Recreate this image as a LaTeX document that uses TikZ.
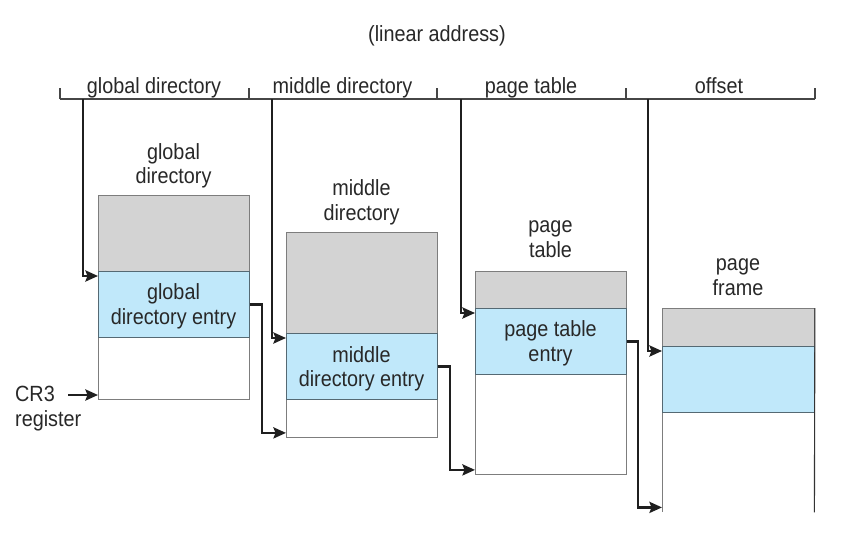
\documentclass[tikz,border=0pt]{standalone}
\usepackage{fontspec}
\setmainfont[FakeStretch=0.9]{Liberation Sans}
\usetikzlibrary{arrows.meta}
\definecolor{grayfill}{RGB}{211,211,211}
\definecolor{bluefill}{RGB}{192,232,250}
\definecolor{boxline}{RGB}{125,125,125}
\definecolor{sepline}{RGB}{85,105,115}
\definecolor{txt}{RGB}{40,40,40}
\definecolor{barline}{RGB}{70,70,70}
\begin{document}
\begin{tikzpicture}[x=1pt,y=-1pt,
  lbl/.style={inner sep=0pt, text=txt, font=\fontsize{22}{24.5}\selectfont, align=center, anchor=base},
  cell/.style={draw=boxline, line width=0.9pt, inner sep=0pt, anchor=north west, minimum width=151pt},
  graycell/.style={cell, fill=grayfill},
  bluecell/.style={cell, fill=bluefill, draw=sepline},
  whitecell/.style={cell, fill=white},
  bar/.style={draw=barline, line width=1.2pt},
  conn/.style={draw=black!88, line width=2.7pt, -{Stealth[length=12.5pt,width=11pt,inset=2pt]}}]
\useasboundingbox[fill=white] (0,0) rectangle (857,552);

% linear address bar
\node[lbl] (la) at (437,41.5) {(linear address)};
\coordinate (t0) at (60,99);
\coordinate (t1) at (249,99);
\coordinate (t2) at (437,99);
\coordinate (t3) at (626,99);
\coordinate (t4) at (815,99);
\draw[bar] (t0) -- (t4);
\foreach \t in {t0,t1,t2,t3,t4} \draw[bar] (\t) -- ++(0,-11);
\node[lbl] (h1) at (154,93) {global directory};
\node[lbl] (h2) at (342.5,93) {middle directory};
\node[lbl] (h3) at (531,93) {page table};
\node[lbl] (h4) at (719,93) {offset};

% box 1: global directory
\node[graycell, minimum height=76pt] (g1) at (98,195) {};
\node[whitecell, minimum height=62pt] (w1) at (98,337) {};
\node[bluecell, minimum height=66pt] (b1) at (98,271) {};
\node[lbl] (n1) at (173.5,183.5) {global\\directory};
\node[lbl] (e1) at (173.5,324) {global\\directory entry};

% box 2: middle directory
\node[graycell, minimum height=101pt] (g2) at (286,232) {};
\node[whitecell, minimum height=38pt] (w2) at (286,399) {};
\node[bluecell, minimum height=66pt] (b2) at (286,333) {};
\node[lbl] (n2) at (361.5,220) {middle\\directory};
\node[lbl] (e2) at (361.5,386.5) {middle\\directory entry};

% box 3: page table
\node[graycell, minimum height=37pt] (g3) at (475,271) {};
\node[whitecell, minimum height=100pt] (w3) at (475,374) {};
\node[bluecell, minimum height=66pt] (b3) at (475,308) {};
\node[lbl] (n3) at (550.5,257) {page\\table};
\node[lbl] (e3) at (550.5,361) {page table\\entry};

% box 4: page frame (open at the bottom)
\node[graycell, minimum height=38pt, minimum width=152pt] (g4) at (662,308) {};
\node[inner sep=0pt, anchor=north west, minimum width=152pt, minimum height=100pt] (w4) at (662,412) {};
\draw[boxline, line width=0.9pt] (w4.north west) -- (w4.south west);
\draw[boxline, line width=0.9pt] (w4.north east) -- (w4.south east);
\node[bluecell, minimum height=66pt, minimum width=152pt] (b4) at (662,346) {};
\draw[black!80, line width=1.1pt] (g4.north east) -- (w4.south east);
\node[lbl] (n4) at (738,295) {page\\frame};

% CR3 register
\node[lbl, anchor=base west] (cr) at (15,401.5) {CR3};
\node[lbl, anchor=base west] (rg) at (15,426.5) {register};
\coordinate (cr3) at (68,395);
\draw[conn] (cr3) -- (cr3 -| w1.west);

% index arrows from the linear address
\coordinate (v1) at (83,99);
\coordinate (v2) at (272,99);
\coordinate (v3) at (461,99);
\coordinate (v4) at (648,99);
\draw[conn] (v1) |- ([yshift=-5pt]b1.north west);
\draw[conn] (v2) |- ([yshift=-5pt]b2.north west);
\draw[conn] (v3) |- ([yshift=-5pt]b3.north west);
\draw[conn] (v4) |- ([yshift=-5pt]b4.north west);

% entry pointers to the next table
\draw[conn] (b1.east) -- ++(12,0) |- ([yshift=5pt]w2.south west);
\draw[conn] (b2.east) -- ++(12,0) |- ([yshift=5pt]w3.south west);
\draw[conn] (b3.east) -- ++(11,0) |- ([yshift=5pt]w4.south west);
\end{tikzpicture}
\end{document}
